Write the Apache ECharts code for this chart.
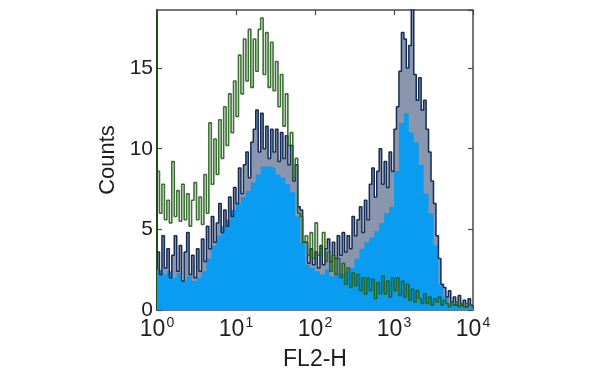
<!DOCTYPE html>
<html>
<head>
<meta charset="utf-8">
<script src="https://cdn.jsdelivr.net/npm/echarts@6/dist/echarts.min.js"></script>
<style>html,body{margin:0;padding:0;background:#fff;}#c{width:600px;height:375px;}</style>
</head>
<body>
<div id="c"></div>
<script>
// Histogram over log10(FL2-H) from 10^0 to 10^4, equal-width bins in log space
const xExponents = [0, 1, 2, 3, 4];
const yTicks = [0, 5, 10, 15];
const yMax = 18.6;

// green (control) histogram, 128 bins
const greenCounts = [
  8.6, 6.0, 7.8, 5.6, 6.8, 5.4, 9.2, 5.8, 7.4, 5.5, 7.8, 5.6, 7.2, 5.2, 6.8, 7.9,
  5.6, 7.0, 5.3, 8.4, 6.0, 11.6, 7.8, 10.6, 8.4, 11.8, 9.4, 12.6, 10.2, 13.4, 11.0, 14.2,
  12.0, 15.8, 13.4, 16.8, 14.2, 17.4, 13.8, 16.8, 14.8, 17.4, 18.1, 14.6, 17.2, 13.8, 16.6, 13.6,
  15.4, 12.6, 14.6, 11.4, 13.4, 10.2, 11.0, 8.2, 9.4, 6.0, 5.8, 4.2, 4.6, 3.4, 4.8, 3.2,
  5.4, 3.4, 3.8, 4.8, 3.0, 3.6, 2.4, 3.4, 2.2, 3.2, 2.0, 2.9, 1.6, 2.6, 1.4, 2.3,
  1.5, 2.2, 1.2, 2.0, 1.0, 2.0, 1.2, 1.9, 0.7, 1.7, 1.0, 2.1, 1.0, 1.8, 0.8, 2.0,
  1.2, 2.0, 0.9, 1.8, 0.8, 1.6, 0.6, 1.3, 0.5, 1.2, 0.7, 0.4, 1.0, 0.4, 0.8, 0.3,
  0.7, 0.5, 0.8, 0.3, 0.6, 0.4, 0.2, 0.5, 0.3, 0.5, 0.2, 0.4, 0.2, 0.4, 0.3, 0.2
];

// blue (stained) histogram outline, 128 bins
const blueLineCounts = [
  3.6, 2.2, 4.6, 2.6, 3.8, 2.0, 3.4, 4.6, 2.4, 4.0, 1.8, 3.6, 4.8, 2.2, 3.4, 2.0,
  3.8, 2.4, 4.4, 3.0, 5.2, 3.8, 5.8, 4.2, 5.4, 6.6, 4.8, 6.2, 5.2, 7.0, 5.8, 7.6,
  6.6, 8.8, 7.2, 9.0, 9.8, 8.2, 10.4, 11.2, 12.4, 9.8, 12.2, 10.0, 11.4, 9.4, 11.2, 9.8,
  11.2, 9.2, 11.0, 9.4, 10.8, 9.0, 10.2, 8.0, 9.0, 6.4, 6.2, 4.2, 4.2, 2.9, 3.8, 2.8,
  3.6, 2.6, 4.0, 2.8, 3.8, 4.4, 3.0, 4.2, 3.2, 4.6, 3.4, 4.8, 3.6, 4.6, 3.8, 5.8,
  4.6, 5.6, 6.4, 4.8, 6.8, 5.6, 7.8, 8.8, 7.0, 8.6, 10.0, 7.8, 9.2, 7.6, 9.8, 8.6,
  11.2, 12.6, 14.8, 17.2, 16.8, 15.0, 16.4, 19.5, 14.6, 13.0, 14.4, 12.4, 13.0, 11.2, 9.8, 8.0,
  6.6, 4.6, 3.2, 1.6, 1.4, 0.8, 1.2, 0.5, 0.8, 0.3, 0.9, 0.3, 0.6, 0.2, 0.7, 0.3
];

// blue histogram filled body, 64 bins
const blueFillCounts = [
  2.5, 2.2, 2.4, 2.0, 2.3, 1.8, 2.1, 1.8, 2.0, 2.4, 3.2, 4.0, 4.6, 5.2, 5.6, 6.2,
  6.6, 7.0, 7.4, 7.9, 8.4, 8.9, 8.9, 8.8, 8.4, 8.2, 7.8, 7.3, 5.8, 4.2, 2.8, 2.6,
  2.4, 2.2, 2.5, 2.1, 2.3, 2.2, 2.4, 2.6, 3.2, 3.8, 4.2, 4.5, 4.9, 5.4, 6.0, 6.4,
  8.6, 11.6, 12.2, 11.0, 10.4, 9.0, 7.2, 6.0, 4.0, 1.6, 0.8, 0.4, 0.3, 0.2, 0.2, 0.2
];

function toSteps(arr) {
  const lo = xExponents[0], hi = xExponents[xExponents.length - 1];
  const w = (hi - lo) / arr.length;
  const pts = arr.map((v, i) => [lo + i * w, v]);
  pts.push([hi, arr[arr.length - 1]]);
  return pts;
}

const chart = echarts.init(document.getElementById('c'), null, {renderer: 'canvas'});
const frame = '#4a4a4a';
const txt = '#1e1e1e';
const font = 'Liberation Sans, Arial, Helvetica, sans-serif';

const option = {
  animation: false,
  backgroundColor: '#ffffff',
  grid: {left: 157, right: 127, top: 10, bottom: 65, outerBoundsMode: 'none', containLabel: false},
  xAxis: [
    {
      type: 'value', position: 'bottom',
      min: xExponents[0], max: xExponents[xExponents.length - 1], interval: 1,
      name: 'FL2-H', nameLocation: 'middle', nameGap: 38,
      nameTextStyle: {fontSize: 23, color: txt, fontFamily: font},
      axisLine: {show: true, onZero: false, lineStyle: {color: frame, width: 1.5}},
      axisTick: {show: true, inside: true, length: 5, lineStyle: {color: frame, width: 1.2}},
      splitLine: {show: false},
      axisLabel: {
        margin: 6, color: txt, fontFamily: font, fontSize: 23,
        formatter: v => '{b|10}{s|' + v + '}',
        rich: {
          b: {fontSize: 23, lineHeight: 28, color: txt, fontFamily: font},
          s: {fontSize: 14, lineHeight: 14, verticalAlign: 'top', padding: [0, 0, 0, 1], color: txt, fontFamily: font}
        }
      }
    },
    {
      type: 'value', position: 'top',
      min: xExponents[0], max: xExponents[xExponents.length - 1], interval: 1,
      axisLine: {show: true, onZero: false, lineStyle: {color: frame, width: 1.5}},
      axisTick: {show: true, inside: true, length: 5, lineStyle: {color: frame, width: 1.2}},
      axisLabel: {show: false}, splitLine: {show: false}
    }
  ],
  yAxis: [
    {
      type: 'value', position: 'left', min: yTicks[0], max: yMax, interval: 5,
      name: 'Counts', nameLocation: 'middle', nameGap: 21, nameRotate: 90,
      nameTextStyle: {fontSize: 22, color: txt, fontFamily: font},
      axisLine: {show: true, onZero: false, lineStyle: {color: '#1f4a18', width: 2}},
      axisTick: {show: true, inside: true, length: 5, lineStyle: {color: frame, width: 1.2}},
      splitLine: {show: false},
      axisLabel: {margin: 4, color: txt, fontSize: 21, fontFamily: font, showMaxLabel: false,
        formatter: v => (yTicks.indexOf(v) >= 0 ? String(v) : '')}
    },
    {
      type: 'value', position: 'right', min: yTicks[0], max: yMax, interval: 5,
      axisLine: {show: true, onZero: false, lineStyle: {color: frame, width: 1.5}},
      axisTick: {show: true, inside: true, length: 5, lineStyle: {color: frame, width: 1.2}},
      axisLabel: {show: false}, splitLine: {show: false}
    }
  ],
  series: [
    {
      name: 'blueBand', type: 'line', step: 'end', xAxisIndex: 0, yAxisIndex: 0,
      data: toSteps(blueLineCounts), symbol: 'none',
      lineStyle: {width: 0},
      areaStyle: {color: 'rgba(22,48,92,0.72)'},
      z: 1, silent: true
    },
    {
      name: 'fill', type: 'line', step: 'end', xAxisIndex: 0, yAxisIndex: 0,
      data: toSteps(blueFillCounts), symbol: 'none',
      lineStyle: {width: 0, color: '#0a9cf0'},
      areaStyle: {color: '#0a9cf0', opacity: 1},
      z: 2, silent: true
    },
    {
      name: 'blue', type: 'line', step: 'end', xAxisIndex: 0, yAxisIndex: 0,
      data: toSteps(blueLineCounts), symbol: 'none',
      lineStyle: {width: 1.5, color: '#142c55'},
      z: 3, silent: true
    },
    {
      name: 'green', type: 'line', step: 'end', xAxisIndex: 0, yAxisIndex: 0,
      data: toSteps(greenCounts), symbol: 'none',
      lineStyle: {width: 1.6, color: '#25601c', opacity: 0.9},
      z: 4, silent: true
    }
  ]
};
chart.setOption(option);
</script>
</body>
</html>
